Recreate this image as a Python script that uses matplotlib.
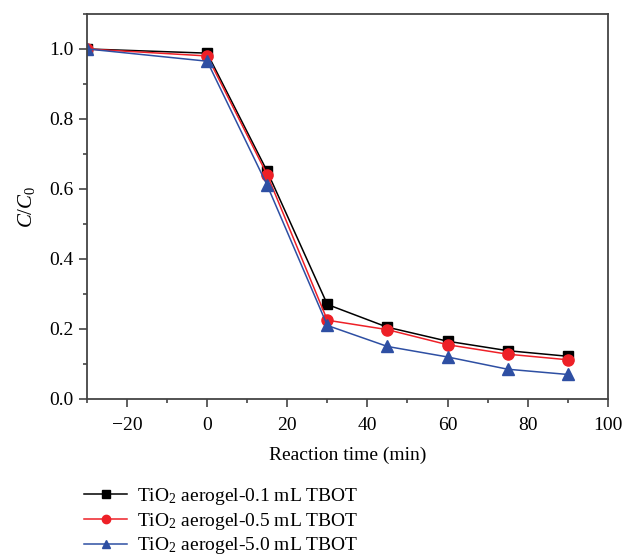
import numpy as np
import matplotlib.pyplot as plt
from matplotlib.ticker import MultipleLocator

time_min = [-30, 0, 15, 30, 45, 60, 75, 90]
c_01 = [1.0, 0.988, 0.65, 0.27, 0.205, 0.165, 0.138, 0.122]
c_05 = [1.0, 0.980, 0.64, 0.225, 0.198, 0.155, 0.128, 0.112]
c_50 = [1.0, 0.965, 0.61, 0.21, 0.15, 0.12, 0.085, 0.07]
labels = ['TiO$_2$ aerogel-0.1 mL TBOT',
          'TiO$_2$ aerogel-0.5 mL TBOT',
          'TiO$_2$ aerogel-5.0 mL TBOT']

plt.rcParams['font.family'] = 'Liberation Serif'
plt.rcParams['mathtext.fontset'] = 'custom'
plt.rcParams['mathtext.rm'] = 'Liberation Serif'
plt.rcParams['mathtext.it'] = 'Liberation Serif:italic'

fig = plt.figure(figsize=(6.24, 5.58), dpi=100)
ax = fig.add_axes([0.1394, 0.285, 0.8346, 0.69])

ax.plot(time_min, c_01, color='black', marker='s', ms=7, lw=1.1, label=labels[0])
ax.plot(time_min, c_05, color='#ee2027', marker='o', ms=8, lw=1.1, label=labels[1])
ax.plot(time_min, c_50, color='#2e4fa3', marker='^', ms=8, lw=1.1, label=labels[2])

ax.set_xlim(-30, 100)
ax.set_ylim(0, 1.1)
ax.xaxis.set_major_locator(MultipleLocator(20))
ax.xaxis.set_minor_locator(MultipleLocator(10))
ax.yaxis.set_major_locator(MultipleLocator(0.2))
ax.yaxis.set_minor_locator(MultipleLocator(0.1))
ax.yaxis.set_major_formatter(plt.FuncFormatter(lambda v, p: f'{v:.1f}'))
ax.tick_params(which='both', direction='out', top=False, right=False,
               color='#444444', width=1.2, labelsize=14)
ax.tick_params(which='major', length=6)
ax.tick_params(which='minor', length=3)
ax.tick_params(axis='x', which='major', pad=7)
for s in ax.spines.values():
    s.set_color('#444444')
    s.set_linewidth(1.3)

ax.set_xlabel('Reaction time (min)', fontsize=14, labelpad=9)
ax.set_ylabel('$C/C_0$', fontsize=15, labelpad=9)

ax.legend(loc='upper left', bbox_to_anchor=(-0.02, -0.205), frameon=False,
          fontsize=14, handlelength=2.2, handletextpad=0.5, labelspacing=0.2,
          markerscale=0.75, borderaxespad=0)

fig.savefig('out.png', dpi=100)
